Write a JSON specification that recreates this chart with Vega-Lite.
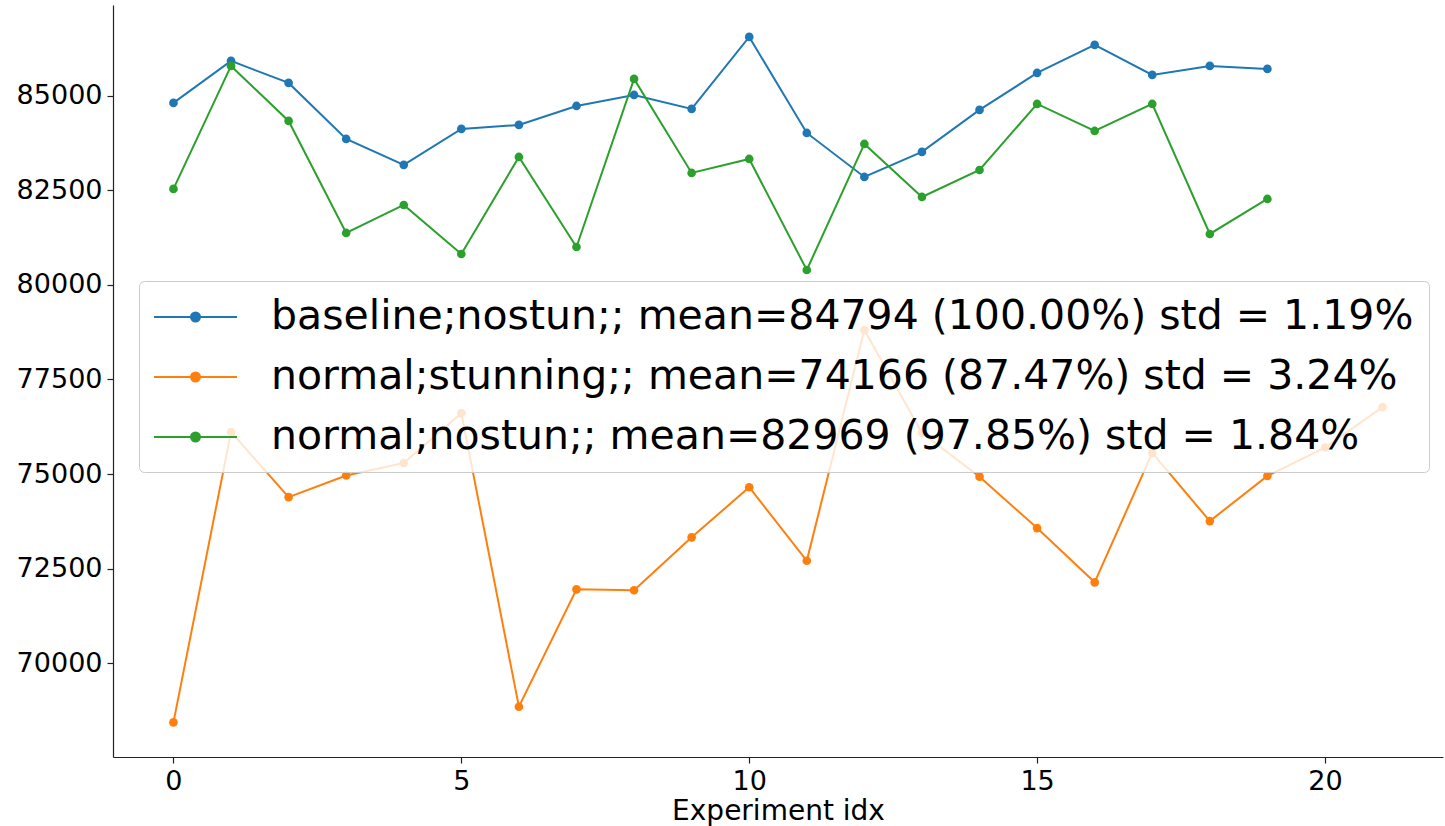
{
  "$schema": "https://vega.github.io/schema/vega-lite/v6.json",
  "autosize": "none",
  "padding": {"left": 113, "top": 5, "right": 2, "bottom": 69},
  "width": 1330,
  "height": 752,
  "background": "white",
  "config": {
    "view": {"stroke": null},
    "font": "DejaVu Sans",
    "axis": {
      "grid": false,
      "domainColor": "#222222",
      "domainWidth": 1.2,
      "tickColor": "#222222",
      "tickWidth": 1.2,
      "tickSize": 6,
      "labelFont": "DejaVu Sans",
      "labelFontSize": 27,
      "labelColor": "black",
      "labelPadding": 5,
      "titleFont": "DejaVu Sans",
      "titleFontSize": 28,
      "titleFontWeight": "normal",
      "titleColor": "black"
    }
  },
  "data": {
    "values": [
      {"x": 0, "y": 84815, "s": "baseline;nostun;; mean=84794 (100.00%) std = 1.19%"},
      {"x": 1, "y": 85926, "s": "baseline;nostun;; mean=84794 (100.00%) std = 1.19%"},
      {"x": 2, "y": 85344, "s": "baseline;nostun;; mean=84794 (100.00%) std = 1.19%"},
      {"x": 3, "y": 83862, "s": "baseline;nostun;; mean=84794 (100.00%) std = 1.19%"},
      {"x": 4, "y": 83175, "s": "baseline;nostun;; mean=84794 (100.00%) std = 1.19%"},
      {"x": 5, "y": 84127, "s": "baseline;nostun;; mean=84794 (100.00%) std = 1.19%"},
      {"x": 6, "y": 84233, "s": "baseline;nostun;; mean=84794 (100.00%) std = 1.19%"},
      {"x": 7, "y": 84735, "s": "baseline;nostun;; mean=84794 (100.00%) std = 1.19%"},
      {"x": 8, "y": 85026, "s": "baseline;nostun;; mean=84794 (100.00%) std = 1.19%"},
      {"x": 9, "y": 84656, "s": "baseline;nostun;; mean=84794 (100.00%) std = 1.19%"},
      {"x": 10, "y": 86561, "s": "baseline;nostun;; mean=84794 (100.00%) std = 1.19%"},
      {"x": 11, "y": 84021, "s": "baseline;nostun;; mean=84794 (100.00%) std = 1.19%"},
      {"x": 12, "y": 82857, "s": "baseline;nostun;; mean=84794 (100.00%) std = 1.19%"},
      {"x": 13, "y": 83519, "s": "baseline;nostun;; mean=84794 (100.00%) std = 1.19%"},
      {"x": 14, "y": 84630, "s": "baseline;nostun;; mean=84794 (100.00%) std = 1.19%"},
      {"x": 15, "y": 85608, "s": "baseline;nostun;; mean=84794 (100.00%) std = 1.19%"},
      {"x": 16, "y": 86349, "s": "baseline;nostun;; mean=84794 (100.00%) std = 1.19%"},
      {"x": 17, "y": 85556, "s": "baseline;nostun;; mean=84794 (100.00%) std = 1.19%"},
      {"x": 18, "y": 85794, "s": "baseline;nostun;; mean=84794 (100.00%) std = 1.19%"},
      {"x": 19, "y": 85714, "s": "baseline;nostun;; mean=84794 (100.00%) std = 1.19%"},
      {"x": 0, "y": 68430, "s": "normal;stunning;; mean=74166 (87.47%) std = 3.24%"},
      {"x": 1, "y": 76110, "s": "normal;stunning;; mean=74166 (87.47%) std = 3.24%"},
      {"x": 2, "y": 74390, "s": "normal;stunning;; mean=74166 (87.47%) std = 3.24%"},
      {"x": 3, "y": 74960, "s": "normal;stunning;; mean=74166 (87.47%) std = 3.24%"},
      {"x": 4, "y": 75290, "s": "normal;stunning;; mean=74166 (87.47%) std = 3.24%"},
      {"x": 5, "y": 76610, "s": "normal;stunning;; mean=74166 (87.47%) std = 3.24%"},
      {"x": 6, "y": 68845, "s": "normal;stunning;; mean=74166 (87.47%) std = 3.24%"},
      {"x": 7, "y": 71950, "s": "normal;stunning;; mean=74166 (87.47%) std = 3.24%"},
      {"x": 8, "y": 71925, "s": "normal;stunning;; mean=74166 (87.47%) std = 3.24%"},
      {"x": 9, "y": 73325, "s": "normal;stunning;; mean=74166 (87.47%) std = 3.24%"},
      {"x": 10, "y": 74650, "s": "normal;stunning;; mean=74166 (87.47%) std = 3.24%"},
      {"x": 11, "y": 72705, "s": "normal;stunning;; mean=74166 (87.47%) std = 3.24%"},
      {"x": 12, "y": 78810, "s": "normal;stunning;; mean=74166 (87.47%) std = 3.24%"},
      {"x": 13, "y": 76090, "s": "normal;stunning;; mean=74166 (87.47%) std = 3.24%"},
      {"x": 14, "y": 74930, "s": "normal;stunning;; mean=74166 (87.47%) std = 3.24%"},
      {"x": 15, "y": 73570, "s": "normal;stunning;; mean=74166 (87.47%) std = 3.24%"},
      {"x": 16, "y": 72135, "s": "normal;stunning;; mean=74166 (87.47%) std = 3.24%"},
      {"x": 17, "y": 75560, "s": "normal;stunning;; mean=74166 (87.47%) std = 3.24%"},
      {"x": 18, "y": 73755, "s": "normal;stunning;; mean=74166 (87.47%) std = 3.24%"},
      {"x": 19, "y": 74950, "s": "normal;stunning;; mean=74166 (87.47%) std = 3.24%"},
      {"x": 20, "y": 75700, "s": "normal;stunning;; mean=74166 (87.47%) std = 3.24%"},
      {"x": 21, "y": 76770, "s": "normal;stunning;; mean=74166 (87.47%) std = 3.24%"},
      {"x": 0, "y": 82540, "s": "normal;nostun;; mean=82969 (97.85%) std = 1.84%"},
      {"x": 1, "y": 85794, "s": "normal;nostun;; mean=82969 (97.85%) std = 1.84%"},
      {"x": 2, "y": 84339, "s": "normal;nostun;; mean=82969 (97.85%) std = 1.84%"},
      {"x": 3, "y": 81376, "s": "normal;nostun;; mean=82969 (97.85%) std = 1.84%"},
      {"x": 4, "y": 82116, "s": "normal;nostun;; mean=82969 (97.85%) std = 1.84%"},
      {"x": 5, "y": 80820, "s": "normal;nostun;; mean=82969 (97.85%) std = 1.84%"},
      {"x": 6, "y": 83386, "s": "normal;nostun;; mean=82969 (97.85%) std = 1.84%"},
      {"x": 7, "y": 81005, "s": "normal;nostun;; mean=82969 (97.85%) std = 1.84%"},
      {"x": 8, "y": 85450, "s": "normal;nostun;; mean=82969 (97.85%) std = 1.84%"},
      {"x": 9, "y": 82963, "s": "normal;nostun;; mean=82969 (97.85%) std = 1.84%"},
      {"x": 10, "y": 83333, "s": "normal;nostun;; mean=82969 (97.85%) std = 1.84%"},
      {"x": 11, "y": 80397, "s": "normal;nostun;; mean=82969 (97.85%) std = 1.84%"},
      {"x": 12, "y": 83730, "s": "normal;nostun;; mean=82969 (97.85%) std = 1.84%"},
      {"x": 13, "y": 82328, "s": "normal;nostun;; mean=82969 (97.85%) std = 1.84%"},
      {"x": 14, "y": 83042, "s": "normal;nostun;; mean=82969 (97.85%) std = 1.84%"},
      {"x": 15, "y": 84788, "s": "normal;nostun;; mean=82969 (97.85%) std = 1.84%"},
      {"x": 16, "y": 84074, "s": "normal;nostun;; mean=82969 (97.85%) std = 1.84%"},
      {"x": 17, "y": 84788, "s": "normal;nostun;; mean=82969 (97.85%) std = 1.84%"},
      {"x": 18, "y": 81349, "s": "normal;nostun;; mean=82969 (97.85%) std = 1.84%"},
      {"x": 19, "y": 82275, "s": "normal;nostun;; mean=82969 (97.85%) std = 1.84%"}
    ]
  },
  "encoding": {
    "x": {
      "field": "x",
      "type": "quantitative",
      "scale": {"domain": [-1.05, 22.05], "nice": false, "zero": false},
      "axis": {"values": [0, 5, 10, 15, 20], "title": "Experiment idx", "titlePadding": 3}
    },
    "y": {
      "field": "y",
      "type": "quantitative",
      "scale": {"domain": [67515, 87405], "nice": false, "zero": false},
      "axis": {"values": [70000, 72500, 75000, 77500, 80000, 82500, 85000], "format": "d", "title": null}
    },
    "color": {
      "field": "s",
      "type": "nominal",
      "sort": null,
      "scale": {
        "domain": [
          "baseline;nostun;; mean=84794 (100.00%) std = 1.19%",
          "normal;stunning;; mean=74166 (87.47%) std = 3.24%",
          "normal;nostun;; mean=82969 (97.85%) std = 1.84%"
        ],
        "range": ["#1f77b4", "#ff7f0e", "#2ca02c"]
      },
      "legend": {
        "title": null,
        "orient": "none",
        "legendX": 26,
        "legendY": 276,
        "symbolType": "M-2.075,0H2.075M-0.225,0A0.225,0.225,0,1,1,0.225,0A0.225,0.225,0,1,1,-0.225,0Z",
        "symbolSize": 1600,
        "symbolStrokeWidth": 2,
        "symbolOffset": 20.5,
        "labelFont": "DejaVu Sans",
        "labelFontSize": 41,
        "labelColor": "black",
        "labelLimit": 3000,
        "labelOffset": 54.5,
        "rowPadding": 19,
        "padding": 15,
        "fillColor": "rgba(255,255,255,0.8)",
        "strokeColor": "#cccccc",
        "cornerRadius": 5,
        "encode": {
          "symbols": {
            "update": {
              "fill": {"scale": "color", "field": "value"},
              "stroke": {"scale": "color", "field": "value"},
              "opacity": {"value": 1}
            }
          }
        }
      }
    }
  },
  "layer": [
    {"mark": {"type": "line", "strokeWidth": 2}},
    {"mark": {"type": "point", "filled": true, "size": 75, "opacity": 1, "shape": "circle"}}
  ]
}
